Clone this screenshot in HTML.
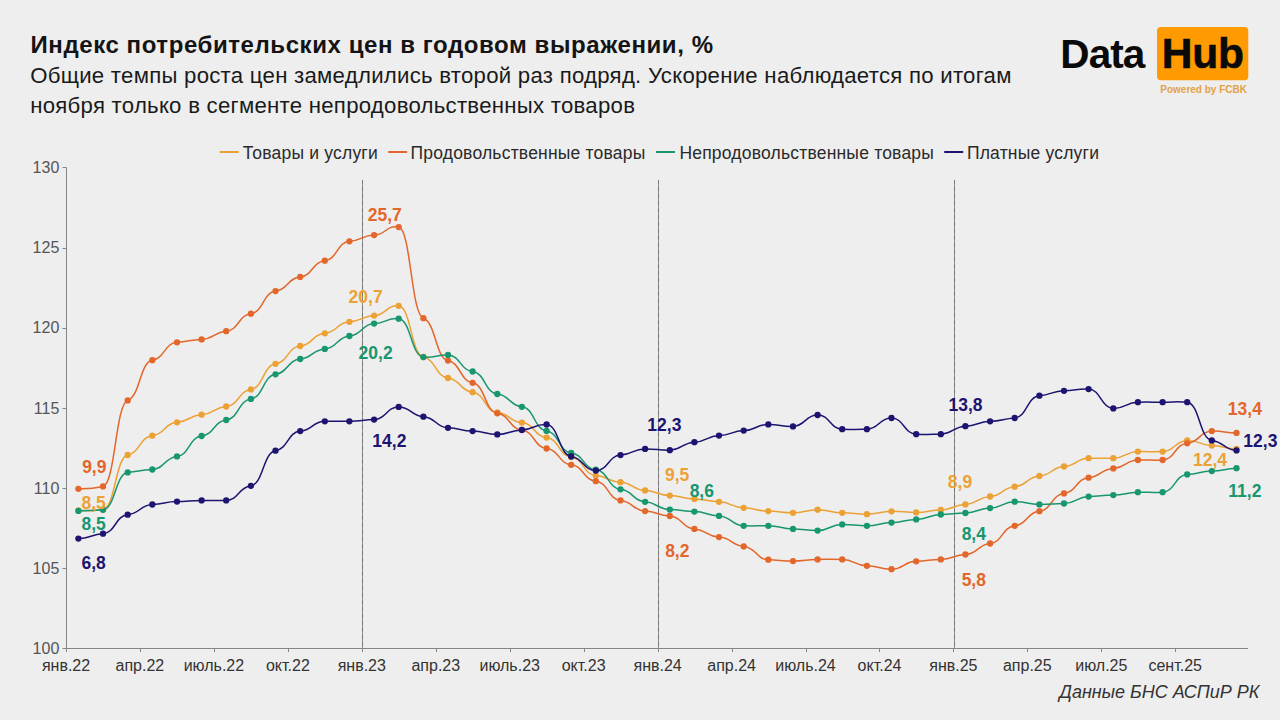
<!DOCTYPE html>
<html><head><meta charset="utf-8"><style>
html,body{margin:0;padding:0;}
body{width:1280px;height:720px;overflow:hidden;background:#EEEEEE;position:relative;font-family:"Liberation Sans",sans-serif;}
svg{position:absolute;left:0;top:0;}
svg text{font-family:"Liberation Sans",sans-serif;}
.t{position:absolute;white-space:nowrap;color:#111;}
</style></head><body>
<svg width="1280" height="720" viewBox="0 0 1280 720">
<text x="30.5" y="52.8" font-size="24" font-weight="700" fill="#141414" letter-spacing="0.58">Индекс потребительских цен в годовом выражении, %</text>
<text x="30.2" y="82.9" font-size="22.2" fill="#1A1A1A" letter-spacing="0.26">Общие темпы роста цен замедлились второй раз подряд. Ускорение наблюдается по итогам</text>
<text x="30.2" y="113" font-size="22.2" fill="#1A1A1A" letter-spacing="0.26">ноября только в сегменте непродовольственных товаров</text>
<text x="1060.3" y="67.6" font-size="40.5" font-weight="700" letter-spacing="-0.9" fill="#0A0A0A">Data</text>
<rect x="1157" y="27" width="91.3" height="53.3" rx="4" fill="#FF9A00"/>
<text x="1161.8" y="67.6" font-size="42.5" font-weight="700" letter-spacing="-0.2" fill="#0A0A0A" stroke="#0A0A0A" stroke-width="0.6">Hub</text>
<text x="1160.3" y="93.2" font-size="10" font-weight="700" fill="#E3A243">Powered by FCBK</text>
<g stroke="#858585" stroke-width="1" fill="none"><path d="M66.5,167.5 V648.5 H1248"/><path d="M62.5,648.5 H66.5"/><path d="M62.5,568.5 H66.5"/><path d="M62.5,488.5 H66.5"/><path d="M62.5,408.5 H66.5"/><path d="M62.5,328.5 H66.5"/><path d="M62.5,248.5 H66.5"/><path d="M62.5,167.5 H66.5"/><path d="M66.5,648.5 V652"/><path d="M140.5,648.5 V652"/><path d="M214.5,648.5 V652"/><path d="M288.5,648.5 V652"/><path d="M362.5,648.5 V652"/><path d="M436.5,648.5 V652"/><path d="M510.5,648.5 V652"/><path d="M584.5,648.5 V652"/><path d="M658.5,648.5 V652"/><path d="M732.5,648.5 V652"/><path d="M806.5,648.5 V652"/><path d="M879.5,648.5 V652"/><path d="M953.5,648.5 V652"/><path d="M1027.5,648.5 V652"/><path d="M1101.5,648.5 V652"/><path d="M1175.5,648.5 V652"/></g><g stroke-width="1"><path d="M362.5,180 V648" stroke="#8E8E8E"/><path d="M362.5,180 V648" stroke="#747474" stroke-dasharray="4,3"/><path d="M658.5,180 V648" stroke="#8E8E8E"/><path d="M658.5,180 V648" stroke="#747474" stroke-dasharray="4,3"/><path d="M954.5,180 V648" stroke="#8E8E8E"/><path d="M954.5,180 V648" stroke="#747474" stroke-dasharray="4,3"/></g><g font-size="16" fill="#555555" text-anchor="end"><text x="59.3" y="653.8">100</text><text x="59.3" y="573.7">105</text><text x="59.3" y="493.6">110</text><text x="59.3" y="413.5">115</text><text x="59.3" y="333.4">120</text><text x="59.3" y="253.3">125</text><text x="59.3" y="173.2">130</text></g><g font-size="16" fill="#333333" text-anchor="middle"><text x="66.0" y="671">янв.22</text><text x="139.9" y="671">апр.22</text><text x="213.9" y="671">июль.22</text><text x="287.9" y="671">окт.22</text><text x="361.8" y="671">янв.23</text><text x="435.8" y="671">апр.23</text><text x="509.7" y="671">июль.23</text><text x="583.6" y="671">окт.23</text><text x="657.6" y="671">янв.24</text><text x="731.6" y="671">апр.24</text><text x="805.5" y="671">июль.24</text><text x="879.5" y="671">окт.24</text><text x="953.4" y="671">янв.25</text><text x="1027.3" y="671">апр.25</text><text x="1101.3" y="671">июл.25</text><text x="1175.2" y="671">сент.25</text></g><path d="M78.4,510.5 C90.7,510.4 90.7,511.2 103.0,509.5 C115.4,507.8 115.4,457.2 127.7,455.0 C140.0,452.8 140.0,436.7 152.3,435.7 C164.6,434.7 164.6,422.9 177.0,422.3 C189.3,421.7 189.3,415.2 201.6,414.7 C213.9,414.2 213.9,407.3 226.2,406.5 C238.6,405.7 238.6,390.7 250.9,389.4 C263.2,388.1 263.2,365.1 275.5,363.8 C287.8,362.5 287.8,346.9 300.2,346.0 C312.5,345.1 312.5,334.0 324.8,333.3 C337.1,332.6 337.1,322.3 349.4,321.8 C361.8,321.3 361.8,316.1 374.1,315.6 C386.4,315.1 386.4,304.6 398.7,305.8 C411.0,307.0 411.0,354.8 423.4,357.0 C435.7,359.2 435.7,376.9 448.0,378.0 C460.3,379.1 460.3,391.2 472.6,392.2 C485.0,393.2 485.0,411.6 497.3,412.5 C509.6,413.4 509.6,421.8 521.9,422.6 C534.2,423.4 534.2,436.6 546.6,437.6 C558.9,438.6 558.9,455.9 571.2,457.0 C583.5,458.1 583.5,474.8 595.8,475.6 C608.2,476.4 608.2,481.8 620.5,482.2 C632.8,482.6 632.8,490.0 645.1,490.4 C657.4,490.8 657.4,495.3 669.8,495.6 C682.1,495.9 682.1,498.7 694.4,498.9 C706.7,499.1 706.7,501.5 719.0,501.8 C731.4,502.1 731.4,507.5 743.7,507.8 C756.0,508.1 756.0,511.0 768.3,511.1 C780.6,511.2 780.6,512.8 793.0,512.8 C805.3,512.8 805.3,509.7 817.6,509.7 C829.9,509.7 829.9,512.7 842.2,512.8 C854.6,512.9 854.6,514.2 866.9,514.2 C879.2,514.2 879.2,511.4 891.5,511.3 C903.8,511.2 903.8,512.4 916.2,512.4 C928.5,512.4 928.5,510.1 940.8,509.9 C953.1,509.7 953.1,504.8 965.4,504.4 C977.8,504.0 977.8,497.0 990.1,496.5 C1002.4,496.0 1002.4,487.3 1014.7,486.7 C1027.0,486.1 1027.0,476.6 1039.4,476.0 C1051.7,475.4 1051.7,467.0 1064.0,466.5 C1076.3,466.0 1076.3,458.4 1088.6,458.2 C1101.0,458.0 1101.0,458.4 1113.3,458.2 C1125.6,458.0 1125.6,451.8 1137.9,451.6 C1150.2,451.4 1150.2,451.9 1162.6,451.6 C1174.9,451.3 1174.9,440.6 1187.2,440.4 C1199.5,440.2 1199.5,445.3 1211.8,445.6 C1224.2,445.9 1224.2,448.7 1236.5,448.9" fill="none" stroke="#ECA135" stroke-width="1.5" stroke-linejoin="round"/>
<g fill="#ECA135"><circle cx="78.4" cy="510.5" r="3.15"/><circle cx="103.0" cy="509.5" r="3.15"/><circle cx="127.7" cy="455.0" r="3.15"/><circle cx="152.3" cy="435.7" r="3.15"/><circle cx="177.0" cy="422.3" r="3.15"/><circle cx="201.6" cy="414.7" r="3.15"/><circle cx="226.2" cy="406.5" r="3.15"/><circle cx="250.9" cy="389.4" r="3.15"/><circle cx="275.5" cy="363.8" r="3.15"/><circle cx="300.2" cy="346.0" r="3.15"/><circle cx="324.8" cy="333.3" r="3.15"/><circle cx="349.4" cy="321.8" r="3.15"/><circle cx="374.1" cy="315.6" r="3.15"/><circle cx="398.7" cy="305.8" r="3.15"/><circle cx="423.4" cy="357.0" r="3.15"/><circle cx="448.0" cy="378.0" r="3.15"/><circle cx="472.6" cy="392.2" r="3.15"/><circle cx="497.3" cy="412.5" r="3.15"/><circle cx="521.9" cy="422.6" r="3.15"/><circle cx="546.6" cy="437.6" r="3.15"/><circle cx="571.2" cy="457.0" r="3.15"/><circle cx="595.8" cy="475.6" r="3.15"/><circle cx="620.5" cy="482.2" r="3.15"/><circle cx="645.1" cy="490.4" r="3.15"/><circle cx="669.8" cy="495.6" r="3.15"/><circle cx="694.4" cy="498.9" r="3.15"/><circle cx="719.0" cy="501.8" r="3.15"/><circle cx="743.7" cy="507.8" r="3.15"/><circle cx="768.3" cy="511.1" r="3.15"/><circle cx="793.0" cy="512.8" r="3.15"/><circle cx="817.6" cy="509.7" r="3.15"/><circle cx="842.2" cy="512.8" r="3.15"/><circle cx="866.9" cy="514.2" r="3.15"/><circle cx="891.5" cy="511.3" r="3.15"/><circle cx="916.2" cy="512.4" r="3.15"/><circle cx="940.8" cy="509.9" r="3.15"/><circle cx="965.4" cy="504.4" r="3.15"/><circle cx="990.1" cy="496.5" r="3.15"/><circle cx="1014.7" cy="486.7" r="3.15"/><circle cx="1039.4" cy="476.0" r="3.15"/><circle cx="1064.0" cy="466.5" r="3.15"/><circle cx="1088.6" cy="458.2" r="3.15"/><circle cx="1113.3" cy="458.2" r="3.15"/><circle cx="1137.9" cy="451.6" r="3.15"/><circle cx="1162.6" cy="451.6" r="3.15"/><circle cx="1187.2" cy="440.4" r="3.15"/><circle cx="1211.8" cy="445.6" r="3.15"/><circle cx="1236.5" cy="448.9" r="3.15"/></g>
<path d="M78.4,488.8 C90.7,488.7 90.7,489.1 103.0,486.4 C115.4,483.7 115.4,404.2 127.7,400.4 C140.0,396.6 140.0,361.9 152.3,360.2 C164.6,358.5 164.6,342.9 177.0,342.3 C189.3,341.7 189.3,339.7 201.6,339.4 C213.9,339.1 213.9,332.0 226.2,331.2 C238.6,330.4 238.6,314.9 250.9,313.7 C263.2,312.5 263.2,292.2 275.5,291.1 C287.8,290.0 287.8,277.8 300.2,276.9 C312.5,276.0 312.5,261.8 324.8,260.7 C337.1,259.6 337.1,242.1 349.4,241.3 C361.8,240.5 361.8,235.5 374.1,235.1 C386.4,234.7 386.4,224.6 398.7,227.1 C411.0,229.6 411.0,314.2 423.4,318.2 C435.7,322.2 435.7,358.7 448.0,360.6 C460.3,362.5 460.3,381.2 472.6,382.8 C485.0,384.4 485.0,411.9 497.3,413.3 C509.6,414.7 509.6,428.9 521.9,430.0 C534.2,431.1 534.2,447.5 546.6,448.5 C558.9,449.5 558.9,463.8 571.2,464.8 C583.5,465.8 583.5,480.1 595.8,481.2 C608.2,482.3 608.2,499.5 620.5,500.4 C632.8,501.3 632.8,510.6 645.1,511.1 C657.4,511.6 657.4,515.5 669.8,516.0 C682.1,516.5 682.1,528.3 694.4,528.9 C706.7,529.5 706.7,536.6 719.0,537.1 C731.4,537.6 731.4,545.7 743.7,546.4 C756.0,547.1 756.0,559.3 768.3,559.7 C780.6,560.1 780.6,561.1 793.0,561.1 C805.3,561.1 805.3,559.5 817.6,559.4 C829.9,559.3 829.9,559.2 842.2,559.4 C854.6,559.6 854.6,565.5 866.9,565.8 C879.2,566.1 879.2,569.3 891.5,569.2 C903.8,569.1 903.8,561.6 916.2,561.3 C928.5,561.0 928.5,559.6 940.8,559.4 C953.1,559.2 953.1,555.0 965.4,554.5 C977.8,554.0 977.8,544.4 990.1,543.5 C1002.4,542.6 1002.4,526.8 1014.7,525.8 C1027.0,524.8 1027.0,512.2 1039.4,511.2 C1051.7,510.2 1051.7,494.4 1064.0,493.4 C1076.3,492.4 1076.3,478.4 1088.6,477.7 C1101.0,476.9 1101.0,468.9 1113.3,468.4 C1125.6,467.9 1125.6,460.3 1137.9,460.0 C1150.2,459.7 1150.2,460.5 1162.6,460.0 C1174.9,459.5 1174.9,444.2 1187.2,443.3 C1199.5,442.4 1199.5,431.4 1211.8,431.1 C1224.2,430.8 1224.2,432.8 1236.5,432.9" fill="none" stroke="#E3662A" stroke-width="1.5" stroke-linejoin="round"/>
<g fill="#E3662A"><circle cx="78.4" cy="488.8" r="3.15"/><circle cx="103.0" cy="486.4" r="3.15"/><circle cx="127.7" cy="400.4" r="3.15"/><circle cx="152.3" cy="360.2" r="3.15"/><circle cx="177.0" cy="342.3" r="3.15"/><circle cx="201.6" cy="339.4" r="3.15"/><circle cx="226.2" cy="331.2" r="3.15"/><circle cx="250.9" cy="313.7" r="3.15"/><circle cx="275.5" cy="291.1" r="3.15"/><circle cx="300.2" cy="276.9" r="3.15"/><circle cx="324.8" cy="260.7" r="3.15"/><circle cx="349.4" cy="241.3" r="3.15"/><circle cx="374.1" cy="235.1" r="3.15"/><circle cx="398.7" cy="227.1" r="3.15"/><circle cx="423.4" cy="318.2" r="3.15"/><circle cx="448.0" cy="360.6" r="3.15"/><circle cx="472.6" cy="382.8" r="3.15"/><circle cx="497.3" cy="413.3" r="3.15"/><circle cx="521.9" cy="430.0" r="3.15"/><circle cx="546.6" cy="448.5" r="3.15"/><circle cx="571.2" cy="464.8" r="3.15"/><circle cx="595.8" cy="481.2" r="3.15"/><circle cx="620.5" cy="500.4" r="3.15"/><circle cx="645.1" cy="511.1" r="3.15"/><circle cx="669.8" cy="516.0" r="3.15"/><circle cx="694.4" cy="528.9" r="3.15"/><circle cx="719.0" cy="537.1" r="3.15"/><circle cx="743.7" cy="546.4" r="3.15"/><circle cx="768.3" cy="559.7" r="3.15"/><circle cx="793.0" cy="561.1" r="3.15"/><circle cx="817.6" cy="559.4" r="3.15"/><circle cx="842.2" cy="559.4" r="3.15"/><circle cx="866.9" cy="565.8" r="3.15"/><circle cx="891.5" cy="569.2" r="3.15"/><circle cx="916.2" cy="561.3" r="3.15"/><circle cx="940.8" cy="559.4" r="3.15"/><circle cx="965.4" cy="554.5" r="3.15"/><circle cx="990.1" cy="543.5" r="3.15"/><circle cx="1014.7" cy="525.8" r="3.15"/><circle cx="1039.4" cy="511.2" r="3.15"/><circle cx="1064.0" cy="493.4" r="3.15"/><circle cx="1088.6" cy="477.7" r="3.15"/><circle cx="1113.3" cy="468.4" r="3.15"/><circle cx="1137.9" cy="460.0" r="3.15"/><circle cx="1162.6" cy="460.0" r="3.15"/><circle cx="1187.2" cy="443.3" r="3.15"/><circle cx="1211.8" cy="431.1" r="3.15"/><circle cx="1236.5" cy="432.9" r="3.15"/></g>
<path d="M78.4,510.9 C90.7,510.8 90.7,511.0 103.0,509.8 C115.4,508.6 115.4,473.6 127.7,472.4 C140.0,471.2 140.0,470.0 152.3,469.5 C164.6,469.0 164.6,457.4 177.0,456.4 C189.3,455.4 189.3,437.1 201.6,436.0 C213.9,434.9 213.9,421.1 226.2,420.0 C238.6,418.9 238.6,400.3 250.9,398.9 C263.2,397.5 263.2,375.5 275.5,374.3 C287.8,373.1 287.8,359.8 300.2,359.0 C312.5,358.2 312.5,349.6 324.8,348.9 C337.1,348.2 337.1,336.8 349.4,336.0 C361.8,335.2 361.8,324.1 374.1,323.6 C386.4,323.1 386.4,317.7 398.7,318.7 C411.0,319.7 411.0,356.0 423.4,357.1 C435.7,358.2 435.7,354.6 448.0,355.0 C460.3,355.4 460.3,370.3 472.6,371.5 C485.0,372.7 485.0,392.9 497.3,394.0 C509.6,395.1 509.6,405.7 521.9,406.8 C534.2,407.9 534.2,429.5 546.6,430.9 C558.9,432.3 558.9,451.8 571.2,453.0 C583.5,454.2 583.5,468.6 595.8,469.7 C608.2,470.8 608.2,488.3 620.5,489.3 C632.8,490.3 632.8,501.2 645.1,501.8 C657.4,502.4 657.4,509.3 669.8,509.6 C682.1,509.9 682.1,511.4 694.4,511.6 C706.7,511.8 706.7,515.5 719.0,515.9 C731.4,516.3 731.4,525.5 743.7,525.8 C756.0,526.1 756.0,525.7 768.3,525.8 C780.6,525.9 780.6,528.8 793.0,528.9 C805.3,529.0 805.3,530.7 817.6,530.6 C829.9,530.5 829.9,524.5 842.2,524.4 C854.6,524.3 854.6,525.9 866.9,525.8 C879.2,525.7 879.2,522.8 891.5,522.6 C903.8,522.4 903.8,519.6 916.2,519.4 C928.5,519.2 928.5,514.7 940.8,514.5 C953.1,514.3 953.1,513.2 965.4,513.0 C977.8,512.8 977.8,508.4 990.1,508.1 C1002.4,507.8 1002.4,501.8 1014.7,501.7 C1027.0,501.6 1027.0,504.3 1039.4,504.4 C1051.7,504.5 1051.7,503.7 1064.0,503.5 C1076.3,503.3 1076.3,496.9 1088.6,496.6 C1101.0,496.3 1101.0,495.2 1113.3,495.1 C1125.6,495.0 1125.6,492.3 1137.9,492.2 C1150.2,492.1 1150.2,492.7 1162.6,492.2 C1174.9,491.7 1174.9,475.0 1187.2,474.4 C1199.5,473.8 1199.5,471.3 1211.8,471.1 C1224.2,470.9 1224.2,468.4 1236.5,468.2" fill="none" stroke="#18966F" stroke-width="1.5" stroke-linejoin="round"/>
<g fill="#18966F"><circle cx="78.4" cy="510.9" r="3.15"/><circle cx="103.0" cy="509.8" r="3.15"/><circle cx="127.7" cy="472.4" r="3.15"/><circle cx="152.3" cy="469.5" r="3.15"/><circle cx="177.0" cy="456.4" r="3.15"/><circle cx="201.6" cy="436.0" r="3.15"/><circle cx="226.2" cy="420.0" r="3.15"/><circle cx="250.9" cy="398.9" r="3.15"/><circle cx="275.5" cy="374.3" r="3.15"/><circle cx="300.2" cy="359.0" r="3.15"/><circle cx="324.8" cy="348.9" r="3.15"/><circle cx="349.4" cy="336.0" r="3.15"/><circle cx="374.1" cy="323.6" r="3.15"/><circle cx="398.7" cy="318.7" r="3.15"/><circle cx="423.4" cy="357.1" r="3.15"/><circle cx="448.0" cy="355.0" r="3.15"/><circle cx="472.6" cy="371.5" r="3.15"/><circle cx="497.3" cy="394.0" r="3.15"/><circle cx="521.9" cy="406.8" r="3.15"/><circle cx="546.6" cy="430.9" r="3.15"/><circle cx="571.2" cy="453.0" r="3.15"/><circle cx="595.8" cy="469.7" r="3.15"/><circle cx="620.5" cy="489.3" r="3.15"/><circle cx="645.1" cy="501.8" r="3.15"/><circle cx="669.8" cy="509.6" r="3.15"/><circle cx="694.4" cy="511.6" r="3.15"/><circle cx="719.0" cy="515.9" r="3.15"/><circle cx="743.7" cy="525.8" r="3.15"/><circle cx="768.3" cy="525.8" r="3.15"/><circle cx="793.0" cy="528.9" r="3.15"/><circle cx="817.6" cy="530.6" r="3.15"/><circle cx="842.2" cy="524.4" r="3.15"/><circle cx="866.9" cy="525.8" r="3.15"/><circle cx="891.5" cy="522.6" r="3.15"/><circle cx="916.2" cy="519.4" r="3.15"/><circle cx="940.8" cy="514.5" r="3.15"/><circle cx="965.4" cy="513.0" r="3.15"/><circle cx="990.1" cy="508.1" r="3.15"/><circle cx="1014.7" cy="501.7" r="3.15"/><circle cx="1039.4" cy="504.4" r="3.15"/><circle cx="1064.0" cy="503.5" r="3.15"/><circle cx="1088.6" cy="496.6" r="3.15"/><circle cx="1113.3" cy="495.1" r="3.15"/><circle cx="1137.9" cy="492.2" r="3.15"/><circle cx="1162.6" cy="492.2" r="3.15"/><circle cx="1187.2" cy="474.4" r="3.15"/><circle cx="1211.8" cy="471.1" r="3.15"/><circle cx="1236.5" cy="468.2" r="3.15"/></g>
<path d="M78.4,538.6 C90.7,538.3 90.7,534.4 103.0,533.7 C115.4,533.0 115.4,515.6 127.7,514.7 C140.0,513.8 140.0,504.9 152.3,504.5 C164.6,504.1 164.6,501.7 177.0,501.6 C189.3,501.5 189.3,500.4 201.6,500.4 C213.9,500.4 213.9,500.8 226.2,500.4 C238.6,500.0 238.6,487.3 250.9,485.8 C263.2,484.3 263.2,452.3 275.5,450.7 C287.8,449.1 287.8,432.0 300.2,431.1 C312.5,430.2 312.5,421.6 324.8,421.3 C337.1,421.0 337.1,421.4 349.4,421.3 C361.8,421.2 361.8,420.0 374.1,419.6 C386.4,419.2 386.4,407.0 398.7,406.9 C411.0,406.8 411.0,416.1 423.4,416.7 C435.7,417.3 435.7,427.4 448.0,427.8 C460.3,428.2 460.3,430.9 472.6,431.1 C485.0,431.3 485.0,434.4 497.3,434.4 C509.6,434.4 509.6,430.2 521.9,429.9 C534.2,429.6 534.2,423.7 546.6,424.5 C558.9,425.3 558.9,455.0 571.2,456.4 C583.5,457.8 583.5,470.6 595.8,470.6 C608.2,470.6 608.2,455.8 620.5,455.1 C632.8,454.4 632.8,449.0 645.1,448.9 C657.4,448.8 657.4,450.4 669.8,450.2 C682.1,450.0 682.1,442.6 694.4,442.2 C706.7,441.8 706.7,435.9 719.0,435.6 C731.4,435.3 731.4,430.9 743.7,430.6 C756.0,430.3 756.0,424.5 768.3,424.4 C780.6,424.3 780.6,426.7 793.0,426.4 C805.3,426.1 805.3,414.9 817.6,415.0 C829.9,415.1 829.9,428.8 842.2,429.2 C854.6,429.6 854.6,429.5 866.9,429.2 C879.2,428.9 879.2,417.9 891.5,418.0 C903.8,418.1 903.8,433.7 916.2,434.2 C928.5,434.7 928.5,434.4 940.8,434.2 C953.1,434.0 953.1,426.6 965.4,426.2 C977.8,425.8 977.8,421.5 990.1,421.3 C1002.4,421.1 1002.4,418.8 1014.7,418.0 C1027.0,417.2 1027.0,396.5 1039.4,395.7 C1051.7,394.9 1051.7,391.0 1064.0,390.8 C1076.3,390.6 1076.3,388.6 1088.6,389.1 C1101.0,389.6 1101.0,408.0 1113.3,408.4 C1125.6,408.8 1125.6,402.4 1137.9,402.2 C1150.2,402.0 1150.2,402.2 1162.6,402.2 C1174.9,402.2 1174.9,401.1 1187.2,402.2 C1199.5,403.3 1199.5,439.0 1211.8,440.4 C1224.2,441.8 1224.2,449.8 1236.5,450.4" fill="none" stroke="#1C1470" stroke-width="1.5" stroke-linejoin="round"/>
<g fill="#1C1470"><circle cx="78.4" cy="538.6" r="3.15"/><circle cx="103.0" cy="533.7" r="3.15"/><circle cx="127.7" cy="514.7" r="3.15"/><circle cx="152.3" cy="504.5" r="3.15"/><circle cx="177.0" cy="501.6" r="3.15"/><circle cx="201.6" cy="500.4" r="3.15"/><circle cx="226.2" cy="500.4" r="3.15"/><circle cx="250.9" cy="485.8" r="3.15"/><circle cx="275.5" cy="450.7" r="3.15"/><circle cx="300.2" cy="431.1" r="3.15"/><circle cx="324.8" cy="421.3" r="3.15"/><circle cx="349.4" cy="421.3" r="3.15"/><circle cx="374.1" cy="419.6" r="3.15"/><circle cx="398.7" cy="406.9" r="3.15"/><circle cx="423.4" cy="416.7" r="3.15"/><circle cx="448.0" cy="427.8" r="3.15"/><circle cx="472.6" cy="431.1" r="3.15"/><circle cx="497.3" cy="434.4" r="3.15"/><circle cx="521.9" cy="429.9" r="3.15"/><circle cx="546.6" cy="424.5" r="3.15"/><circle cx="571.2" cy="456.4" r="3.15"/><circle cx="595.8" cy="470.6" r="3.15"/><circle cx="620.5" cy="455.1" r="3.15"/><circle cx="645.1" cy="448.9" r="3.15"/><circle cx="669.8" cy="450.2" r="3.15"/><circle cx="694.4" cy="442.2" r="3.15"/><circle cx="719.0" cy="435.6" r="3.15"/><circle cx="743.7" cy="430.6" r="3.15"/><circle cx="768.3" cy="424.4" r="3.15"/><circle cx="793.0" cy="426.4" r="3.15"/><circle cx="817.6" cy="415.0" r="3.15"/><circle cx="842.2" cy="429.2" r="3.15"/><circle cx="866.9" cy="429.2" r="3.15"/><circle cx="891.5" cy="418.0" r="3.15"/><circle cx="916.2" cy="434.2" r="3.15"/><circle cx="940.8" cy="434.2" r="3.15"/><circle cx="965.4" cy="426.2" r="3.15"/><circle cx="990.1" cy="421.3" r="3.15"/><circle cx="1014.7" cy="418.0" r="3.15"/><circle cx="1039.4" cy="395.7" r="3.15"/><circle cx="1064.0" cy="390.8" r="3.15"/><circle cx="1088.6" cy="389.1" r="3.15"/><circle cx="1113.3" cy="408.4" r="3.15"/><circle cx="1137.9" cy="402.2" r="3.15"/><circle cx="1162.6" cy="402.2" r="3.15"/><circle cx="1187.2" cy="402.2" r="3.15"/><circle cx="1211.8" cy="440.4" r="3.15"/><circle cx="1236.5" cy="450.4" r="3.15"/></g>
<g font-size="17.5" font-weight="700" text-anchor="middle"><text x="384.8" y="220.9" fill="#E3662A">25,7</text><text x="365.6" y="303.2" fill="#ECA135">20,7</text><text x="375.6" y="359.2" fill="#18966F">20,2</text><text x="389.4" y="447.2" fill="#1C1470">14,2</text><text x="94.3" y="473.1" fill="#E3662A">9,9</text><text x="93.6" y="508.7" fill="#ECA135">8,5</text><text x="93.6" y="529.5" fill="#18966F">8,5</text><text x="93.6" y="569.2" fill="#1C1470">6,8</text><text x="664.4" y="431.1" fill="#1C1470">12,3</text><text x="677.1" y="481.1" fill="#ECA135">9,5</text><text x="701.8" y="497.3" fill="#18966F">8,6</text><text x="677.3" y="556.9" fill="#E3662A">8,2</text><text x="965.5" y="410.7" fill="#1C1470">13,8</text><text x="960" y="488.3" fill="#ECA135">8,9</text><text x="973.8" y="540.3" fill="#18966F">8,4</text><text x="973.8" y="585.8" fill="#E3662A">5,8</text><text x="1244.9" y="414.6" fill="#E3662A">13,4</text><text x="1260.4" y="447.3" fill="#1C1470">12,3</text><text x="1210" y="465.8" fill="#ECA135">12,4</text><text x="1244.9" y="497.3" fill="#18966F">11,2</text></g><g font-size="17.5" fill="#2A2A2A" letter-spacing="0.2"><path d="M219.7,152 H238.7" stroke="#ECA135" stroke-width="2"/><text x="242.8" y="158.8">Товары и услуги</text><path d="M388.2,152 H407.2" stroke="#E3662A" stroke-width="2"/><text x="410.5" y="158.8">Продовольственные товары</text><path d="M656,152 H675" stroke="#18966F" stroke-width="2"/><text x="679.4" y="158.8">Непродовольственные товары</text><path d="M944.2,152 H963.2" stroke="#1C1470" stroke-width="2"/><text x="966.9" y="158.8">Платные услуги</text></g><text x="1259.4" y="698.1" font-size="18" font-style="italic" fill="#333333" text-anchor="end">Данные БНС АСПиР РК</text>
</svg>
</body></html>
